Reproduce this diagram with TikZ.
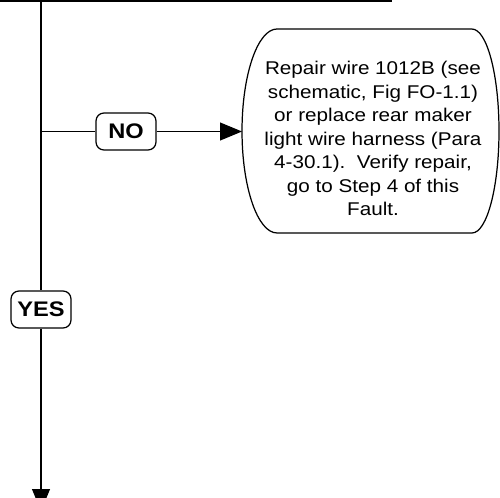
\documentclass[tikz,border=0pt]{standalone}
\usepackage{fontspec}
\setmainfont{Liberation Sans}[FakeStretch=1.12]
\usetikzlibrary{arrows.meta, positioning}
\tikzset{
  flow/.style={line width=0.7pt, black},
  tag/.style={draw, flow, rounded corners=4.5pt, fill=white,
    minimum width=1.2cm, minimum height=0.74cm, inner sep=1pt,
    font=\fontsize{12}{14}\selectfont\bfseries},
  note/.style={align=center, inner sep=0pt,
    font=\fontsize{10.5}{13.4}\selectfont},
  flowarrow/.style={flow, -{Triangle[length=12.5pt, width=10.2pt]}}
}

\begin{document}
\begin{tikzpicture}[x=0.02cm, y=-0.02cm]
  \useasboundingbox (0,0) rectangle (500,497);
  \coordinate (topleft) at (0,1);
  \coordinate (topright) at (392,1);
  \coordinate (trunk) at (41,1);
  \coordinate (branch) at (41,131.5);
  \coordinate (down) at (41,511);
  \coordinate (repairin) at (242,131.5);
  \node[tag] (no) at (126,131.5) {NO};
  \node[tag] (yes) at (41,309.5) {YES};
  \node[note] (repair) at (373,138.5)
    {Repair wire 1012B (see\\ schematic, Fig FO-1.1)\\ or replace rear maker\\
     light wire harness (Para\\ 4-30.1).\ \ Verify repair,\\ go to Step 4 of this\\ Fault.};
  \draw[flow] (277,29) arc[start angle=90, end angle=270, x radius=0.7cm, y radius=2.04cm]
    -- (472,233) arc[start angle=-90, end angle=90, x radius=0.54cm, y radius=2.04cm]
    -- cycle;
  \draw[flow] (topleft) -- (topright);
  \draw[flow] (trunk) -- (yes);
  \draw[flowarrow] (yes) -- (down);
  \draw[flow] (branch) -- (no);
  \draw[flowarrow] (no) -- (repairin);
\end{tikzpicture}
\end{document}
